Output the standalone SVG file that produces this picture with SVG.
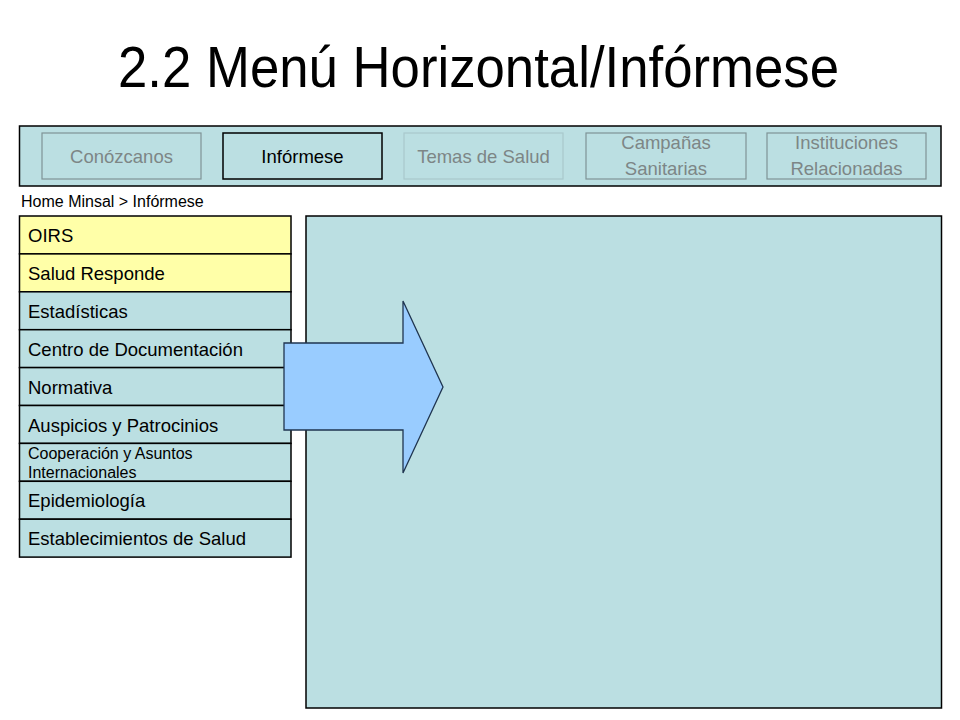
<svg xmlns="http://www.w3.org/2000/svg" width="960" height="720" viewBox="0 0 960 720">
<style>
  text { font-family: "Liberation Sans", Arial, sans-serif; }
  .panel { fill: #bbdfe2; stroke: #000; stroke-width: 1.5; }
  .btn { fill: #bbdfe2; stroke: #7f9396; stroke-width: 1.2; }
  .btn-faint { fill: #bbdfe2; stroke: #a9c9cc; stroke-width: 1.2; }
  .btn-active { fill: #bbdfe2; stroke: #000; stroke-width: 1.5; }
  .btntxt { font-size: 18.5px; fill: #7d8686; text-anchor: middle; }
  .btntxt-active { font-size: 18.5px; fill: #000; text-anchor: middle; }
  .row { fill: #bbdfe2; stroke: #000; stroke-width: 1.5; }
  .row-y { fill: #ffffa8; stroke: #000; stroke-width: 1.5; }
  .rowtxt { font-size: 18.5px; fill: #000; }
  .rowtxt-s { font-size: 16px; fill: #000; }
</style>
<rect width="960" height="720" fill="#fff"/>
<text id="title" x="118" y="87" font-size="57" textLength="721" lengthAdjust="spacingAndGlyphs" fill="#000">2.2 Menú Horizontal/Infórmese</text>

<g id="topbar">
  <rect class="panel" x="19.5" y="126" width="921.5" height="60"/>
</g>
<g id="btn-conozcanos">
  <rect class="btn" x="42" y="133" width="159" height="46"/>
  <text class="btntxt" x="121.5" y="163">Conózcanos</text>
</g>
<g id="btn-informese">
  <rect class="btn-active" x="223" y="133" width="159" height="46"/>
  <text class="btntxt-active" x="302.5" y="163">Infórmese</text>
</g>
<g id="btn-temas">
  <rect class="btn-faint" x="404" y="133" width="159" height="46"/>
  <text class="btntxt" x="483.5" y="163">Temas de Salud</text>
</g>
<g id="btn-campanas">
  <rect class="btn" x="586" y="133" width="160" height="46"/>
  <text class="btntxt" x="666" y="149">Campañas</text>
  <text class="btntxt" x="666" y="175">Sanitarias</text>
</g>
<g id="btn-instituciones">
  <rect class="btn" x="767" y="133" width="159" height="46"/>
  <text class="btntxt" x="846.5" y="149">Instituciones</text>
  <text class="btntxt" x="846.5" y="175">Relacionadas</text>
</g>

<text id="breadcrumb" x="21" y="206.5" font-size="16" fill="#000">Home Minsal &gt; Infórmese</text>

<g id="content">
  <rect class="panel" x="306" y="216" width="635.5" height="492"/>
</g>

<g id="menu">
  <g id="m-oirs"><rect class="row-y" x="19.5" y="216" width="271.5" height="37.9"/><text class="rowtxt" x="28" y="242">OIRS</text></g>
  <g id="m-salud"><rect class="row-y" x="19.5" y="253.9" width="271.5" height="37.9"/><text class="rowtxt" x="28" y="280">Salud Responde</text></g>
  <g id="m-estad"><rect class="row" x="19.5" y="291.8" width="271.5" height="37.9"/><text class="rowtxt" x="28" y="318">Estadísticas</text></g>
  <g id="m-centro"><rect class="row" x="19.5" y="329.7" width="271.5" height="37.9"/><text class="rowtxt" x="28" y="356">Centro de Documentación</text></g>
  <g id="m-normativa"><rect class="row" x="19.5" y="367.6" width="271.5" height="37.9"/><text class="rowtxt" x="28" y="393.5">Normativa</text></g>
  <g id="m-auspicios"><rect class="row" x="19.5" y="405.5" width="271.5" height="37.9"/><text class="rowtxt" x="28" y="431.5">Auspicios y Patrocinios</text></g>
  <g id="m-coop"><rect class="row" x="19.5" y="443.4" width="271.5" height="37.9"/><text class="rowtxt-s" x="28" y="459.3">Cooperación y Asuntos</text><text class="rowtxt-s" x="28" y="477.7">Internacionales</text></g>
  <g id="m-epi"><rect class="row" x="19.5" y="481.3" width="271.5" height="37.9"/><text class="rowtxt" x="28" y="507.3">Epidemiología</text></g>
  <g id="m-estab"><rect class="row" x="19.5" y="519.2" width="271.5" height="37.9"/><text class="rowtxt" x="28" y="545.2">Establecimientos de Salud</text></g>
</g>

<g id="connectors">
  <polygon points="284,343 403,343 403,301 443,387 403,473 403,430 284,430" fill="#99ccff" stroke="#1f3550" stroke-width="1.3"/>
</g>
</svg>
